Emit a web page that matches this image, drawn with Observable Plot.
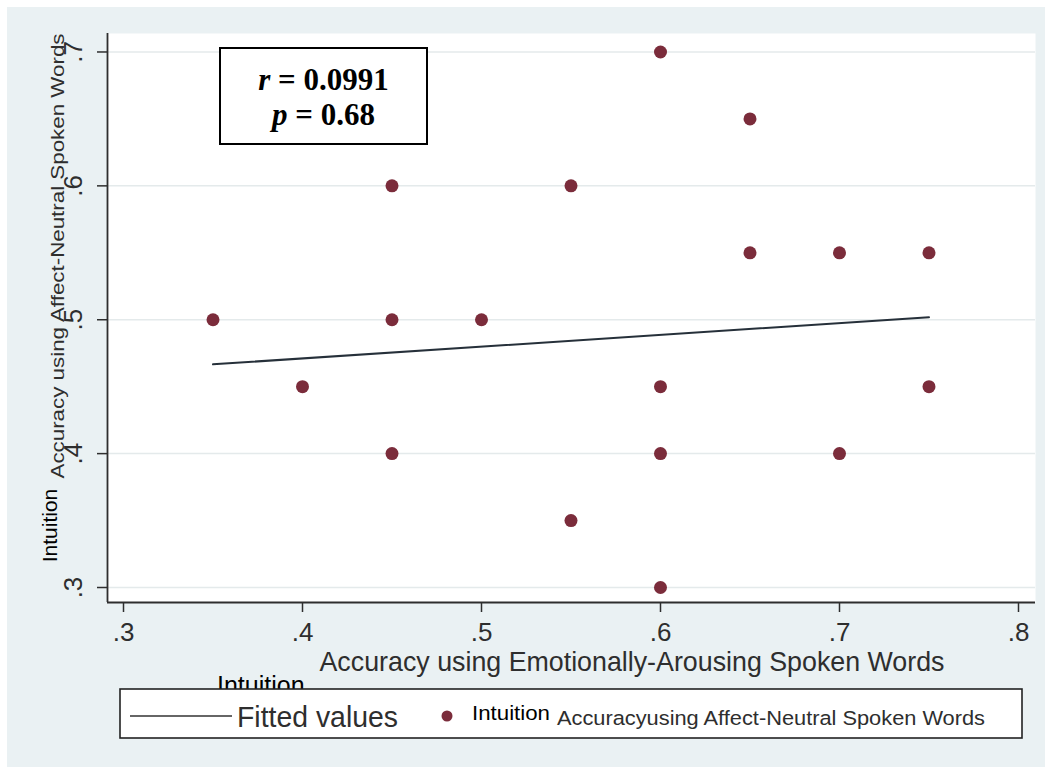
<!DOCTYPE html>
<html>
<head>
<meta charset="utf-8">
<script src="https://cdn.jsdelivr.net/npm/d3@7"></script>
<script src="https://cdn.jsdelivr.net/npm/@observablehq/plot@0.6"></script>
<style>
  body { margin: 0; background: #ffffff; }
  svg { display: block; }
</style>
</head>
<body>
<div id="chart"></div>
<script>
// Accuracy per participant: emotionally-arousing words (x) vs affect-neutral words (y)
const accArousing = [0.35, 0.40, 0.45, 0.45, 0.45, 0.50, 0.55, 0.55, 0.60, 0.60, 0.60, 0.60, 0.65, 0.65, 0.70, 0.70, 0.75, 0.75];
const accNeutral  = [0.50, 0.45, 0.60, 0.50, 0.40, 0.50, 0.60, 0.35, 0.70, 0.45, 0.40, 0.30, 0.65, 0.55, 0.55, 0.40, 0.55, 0.45];

// Linear fit (fitted values at the ends of the x range)
const fitX = [0.35, 0.75];
const fitY = [0.4667, 0.5019];

const xTicks = [0.3, 0.4, 0.5, 0.6, 0.7, 0.8];
const yTicks = [0.3, 0.4, 0.5, 0.6, 0.7];
const xDomain = [0.29106, 0.8095];
const yDomain = [0.2888, 0.7138];

const statR = "0.0991";
const statP = "0.68";

const points = accArousing.map((x, i) => ({x, y: accNeutral[i]}));
const fitted = fitX.map((x, i) => ({x, y: fitY[i]}));
const fmt = d => d.toFixed(1).replace(/^0/, "");

const maroon = "#7b2c3b";
const ink = "#2e2e2e";
const sans = "'Liberation Sans', Arial, sans-serif";

const plot = Plot.plot({
  width: 1050,
  height: 771,
  marginLeft: 107,
  marginRight: 15,
  marginTop: 33,
  marginBottom: 169,
  style: {fontFamily: sans, background: "transparent", overflow: "visible"},
  x: {domain: xDomain},
  y: {domain: yDomain},
  marks: [
    Plot.frame({fill: "white", stroke: null}),
    Plot.gridY(yTicks, {stroke: "#e4eaeb", strokeOpacity: 1, strokeWidth: 1.5}),
    Plot.axisX(xTicks, {tickSize: 10, tickPadding: 10, tickFormat: fmt, fontSize: 26, label: null, stroke: ink, strokeWidth: 1.5, fill: ink}),
    Plot.axisY(yTicks, {tickSize: 10, tickFormat: () => "", label: null, stroke: ink, strokeWidth: 1.5}),
    Plot.text(yTicks, {y: d => d, text: fmt, frameAnchor: "left", dx: -26, rotate: -90, textAnchor: "middle", lineAnchor: "bottom", fontSize: 26, fill: ink}),
    Plot.ruleX([xDomain[0]], {stroke: ink, strokeWidth: 1.8}),
    Plot.ruleY([yDomain[0]], {stroke: ink, strokeWidth: 1.8}),
    Plot.line(fitted, {x: "x", y: "y", stroke: "#26303a", strokeWidth: 2}),
    Plot.dot(points, {x: "x", y: "y", r: 6.5, fill: maroon, stroke: null})
  ]
});

const svg = d3.select(plot);

// outer graph region
svg.insert("rect", ":first-child")
  .attr("x", 7).attr("y", 7).attr("width", 1038).attr("height", 760)
  .attr("fill", "#eaf1f3");

function label(x, y, str, opts = {}) {
  const t = svg.append("text")
    .attr("x", x).attr("y", y)
    .attr("text-anchor", opts.anchor || "start")
    .attr("font-family", opts.family || sans)
    .attr("font-size", opts.size || 20)
    .attr("fill", opts.fill || ink)
    .text(str);
  if (opts.length) t.attr("textLength", opts.length).attr("lengthAdjust", "spacingAndGlyphs");
  if (opts.transform) t.attr("transform", opts.transform).attr("x", null).attr("y", null);
  return t;
}

// axis titles
label(632, 671, "Accuracy using Emotionally-Arousing Spoken Words", {anchor: "middle", size: 27.5, length: 625});
label(0, 0, "Intuition", {anchor: "middle", size: 21, fill: "#000", transform: "translate(57,525.5) rotate(-90)"});
label(0, 0, "Accuracy using Affect-Neutral Spoken Words", {anchor: "middle", size: 19, length: 445, transform: "translate(64,256) rotate(-90)"});

// correlation box
svg.append("rect")
  .attr("x", 220).attr("y", 48).attr("width", 207).attr("height", 96)
  .attr("fill", "white").attr("stroke", "#000").attr("stroke-width", 2);

const serif = "'Liberation Serif', 'Times New Roman', serif";
[[90, "r", statR], [125, "p", statP]].forEach(([y, sym, val]) => {
  const t = svg.append("text")
    .attr("x", 323.5).attr("y", y).attr("text-anchor", "middle")
    .attr("font-family", serif).attr("font-size", 31).attr("font-weight", "bold").attr("fill", "#000");
  t.append("tspan").attr("font-style", "italic").text(sym);
  t.append("tspan").text(" = " + val);
});

// legend
label(217, 694, "Intuition", {size: 25, fill: "#000"});

svg.append("rect")
  .attr("x", 120).attr("y", 689).attr("width", 902).attr("height", 49)
  .attr("fill", "white").attr("stroke", "#222").attr("stroke-width", 1.6);

svg.append("line")
  .attr("x1", 130).attr("x2", 232).attr("y1", 716).attr("y2", 716)
  .attr("stroke", "#333").attr("stroke-width", 1.5);

label(237, 727, "Fitted values", {size: 30, length: 161});

svg.append("circle")
  .attr("cx", 447).attr("cy", 716).attr("r", 5.5).attr("fill", maroon);

label(472, 720, "Intuition", {size: 21, fill: "#000", length: 78});
label(557, 725, "Accuracyusing Affect-Neutral Spoken Words", {size: 20.5, length: 428});

document.getElementById("chart").append(plot);
</script>
</body>
</html>
